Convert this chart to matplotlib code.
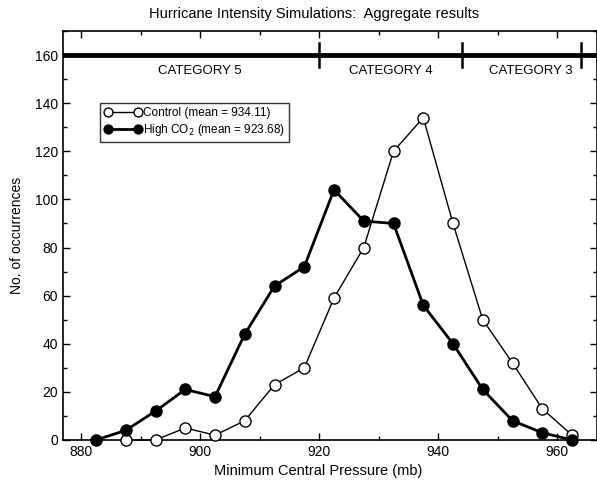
import numpy as np
import matplotlib.pyplot as plt
from matplotlib.ticker import MultipleLocator

plt.rcParams['font.family'] = ['Liberation Sans', 'DejaVu Sans']

# bin centres (mb)
x_ctrl = [887.5, 892.5, 897.5, 902.5, 907.5, 912.5, 917.5, 922.5, 927.5,
          932.5, 937.5, 942.5, 947.5, 952.5, 957.5, 962.5]
y_ctrl = [0, 0, 5, 2, 8, 23, 30, 59, 80, 120, 134, 90, 50, 32, 13, 2]

x_co2 = [882.5, 887.5, 892.5, 897.5, 902.5, 907.5, 912.5, 917.5, 922.5,
         927.5, 932.5, 937.5, 942.5, 947.5, 952.5, 957.5, 962.5]
y_co2 = [0, 4, 12, 21, 18, 44, 64, 72, 104, 91, 90, 56, 40, 21, 8, 3, 0]

cat_bounds = [920, 944, 964]
cat_labels = ['CATEGORY 5', 'CATEGORY 4', 'CATEGORY 3']
cat_label_x = [900, 932, 955.5]
cat_level = 160

fig = plt.figure(figsize=(5.97, 4.86), dpi=100)
ax = fig.add_axes([0.1055, 0.0947, 0.8945, 0.8415])

ax.plot(x_ctrl, y_ctrl, color='k', lw=1, marker='o', ms=8,
        mfc='white', mec='k', mew=1, label='Control (mean = 934.11)', clip_on=False, zorder=3)
ax.plot(x_co2, y_co2, color='k', lw=2, marker='o', ms=8,
        mfc='k', mec='k', label='High CO$_2$ (mean = 923.68)', clip_on=False, zorder=4)

# category bar
ax.axhline(cat_level, color='k', lw=3.5, zorder=2)
for b in cat_bounds:
    ax.plot([b, b], [cat_level - 5, cat_level + 5], color='k', lw=1.8)
for lx, lab in zip(cat_label_x, cat_labels):
    ax.text(lx, 153.5, lab, ha='center', va='center', fontsize=9.5)

ax.set_xlim(876.95, 966.7)
ax.set_ylim(0, 170)
ax.xaxis.set_major_locator(MultipleLocator(20))
ax.xaxis.set_minor_locator(MultipleLocator(10))
ax.yaxis.set_major_locator(MultipleLocator(20))
ax.yaxis.set_minor_locator(MultipleLocator(10))
ax.tick_params(which='both', direction='in', top=True, right=True,
               labelsize=10, width=1)
ax.tick_params(which='major', length=5)
ax.tick_params(which='minor', length=3)
for s in ax.spines.values():
    s.set_linewidth(1.2)

ax.set_xlabel('Minimum Central Pressure (mb)', fontsize=10.5)
ax.xaxis.set_label_coords(0.477, -0.058)
ax.set_ylabel('No. of occurrences', fontsize=10, labelpad=8)
fig.text(314 / 597, 1 - 14 / 486, 'Hurricane Intensity Simulations:  Aggregate results',
         ha='center', va='center', fontsize=10.5)

leg = ax.legend(loc='upper left', bbox_to_anchor=(0.069, 0.824), borderaxespad=0,
                numpoints=2, handlelength=3.2, handletextpad=0.1, fontsize=8.5,
                frameon=True, fancybox=False, borderpad=0.35, labelspacing=0.25,
                markerscale=0.8)
leg.get_frame().set_edgecolor('k')
leg.get_frame().set_linewidth(1)

fig.savefig('out.png', dpi=100)
